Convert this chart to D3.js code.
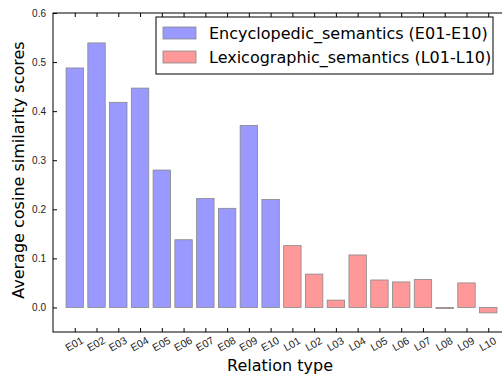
<!DOCTYPE html>
<html>
<head>
<meta charset="utf-8">
<script src="https://cdn.jsdelivr.net/npm/d3@7"></script>
<style>
  body { margin: 0; background: #fff; }
  svg { font-family: "DejaVu Sans", sans-serif; }
</style>
</head>
<body>
<div id="chart"></div>
<script>
// data
const categories = ["E01", "E02", "E03", "E04", "E05", "E06", "E07", "E08", "E09", "E10",
                    "L01", "L02", "L03", "L04", "L05", "L06", "L07", "L08", "L09", "L10"];
const encValues = [0.488, 0.539, 0.418, 0.447, 0.280, 0.138, 0.222, 0.202, 0.371, 0.220];
const lexValues = [0.126, 0.068, 0.015, 0.107, 0.056, 0.052, 0.057, -0.002, 0.050, -0.011];
const seriesNames = ["Encyclopedic_semantics (E01-E10)", "Lexicographic_semantics (L01-L10)"];
const seriesColors = ["#9999ff", "#ff9999"];
const yTicks = [0.0, 0.1, 0.2, 0.3, 0.4, 0.5, 0.6];

const data = categories.map((c, i) => ({
  cat: c,
  value: i < 10 ? encValues[i] : lexValues[i - 10],
  series: i < 10 ? 0 : 1
}));

const W = 502, H = 375;
const margin = { left: 53, top: 13, right: -8, bottom: 43 };
const width = W - margin.left - margin.right;
const height = H - margin.top - margin.bottom;

const svg = d3.select("#chart").append("svg")
  .attr("width", W).attr("height", H);
const g = svg.append("g")
  .attr("transform", "translate(" + margin.left + "," + margin.top + ")");

// x: index positions, one unit per bar, limits -1 .. 20
const x = d3.scaleLinear().domain([-1, categories.length]).range([0, width]);
const y = d3.scaleLinear().domain([-0.05, 0.6]).range([height, 0]);
const barW = (x(1) - x(0)) * 0.8;

// bars
g.selectAll(".bar")
  .data(data)
  .enter()
  .append("rect")
  .attr("x", (d, i) => x(i) - barW / 2)
  .attr("y", d => y(Math.max(0, d.value)))
  .attr("width", barW)
  .attr("height", d => Math.max(0.5, Math.abs(y(d.value) - y(0))))
  .attr("fill", d => seriesColors[d.series])
  .attr("stroke", "#888")
  .attr("stroke-width", 0.8);

// frame
g.append("rect")
  .attr("width", width).attr("height", height)
  .attr("fill", "none").attr("stroke", "#000").attr("stroke-width", 1);

// y axis (inward ticks)
const yAxis = g.append("g")
  .call(d3.axisLeft(y).tickValues(yTicks).tickFormat(d3.format(".1f")).tickSizeInner(-4).tickSizeOuter(0).tickPadding(7));
yAxis.select(".domain").remove();
yAxis.selectAll("text").attr("font-size", 10).attr("fill", "#222");

// right side ticks
const yAxisR = g.append("g").attr("transform", "translate(" + width + ",0)")
  .call(d3.axisRight(y).tickValues(yTicks).tickFormat("").tickSizeInner(-4).tickSizeOuter(0));
yAxisR.select(".domain").remove();

// x axis bottom
const xAxis = g.append("g").attr("transform", "translate(0," + height + ")")
  .call(d3.axisBottom(x).tickValues(d3.range(categories.length)).tickFormat(i => categories[i])
    .tickSizeInner(-4).tickSizeOuter(0));
xAxis.select(".domain").remove();
xAxis.selectAll("text")
  .attr("font-size", 10.5).attr("fill", "#222")
  .style("text-anchor", "middle")
  .attr("y", 0).attr("dy", "0.35em")
  .attr("transform", "translate(-1,12) rotate(-30)");

// x axis top ticks
const xAxisT = g.append("g")
  .call(d3.axisTop(x).tickValues(d3.range(categories.length)).tickFormat("").tickSizeInner(-4).tickSizeOuter(0));
xAxisT.select(".domain").remove();

// axis labels
svg.append("text")
  .attr("x", 280).attr("y", 371)
  .attr("text-anchor", "middle").attr("font-size", 16)
  .text("Relation type");

svg.append("text")
  .attr("transform", "translate(24," + (margin.top + y(0.28)) + ") rotate(-90)")
  .attr("text-anchor", "middle").attr("font-size", 16)
  .text("Average cosine similarity scores");

// legend
const legend = svg.append("g").attr("transform", "translate(156,17)");
legend.append("rect")
  .attr("width", 337).attr("height", 57)
  .attr("fill", "#fff").attr("stroke", "#000").attr("stroke-width", 1);
seriesNames.forEach((name, i) => {
  legend.append("rect")
    .attr("x", 7).attr("y", 10 + i * 24)
    .attr("width", 33).attr("height", 12)
    .attr("fill", seriesColors[i]).attr("stroke", "#888").attr("stroke-width", 0.8);
  legend.append("text")
    .attr("x", 53).attr("y", 16 + i * 24)
    .attr("dy", "0.35em")
    .attr("font-size", 16)
    .text(name);
});
</script>
</body>
</html>
